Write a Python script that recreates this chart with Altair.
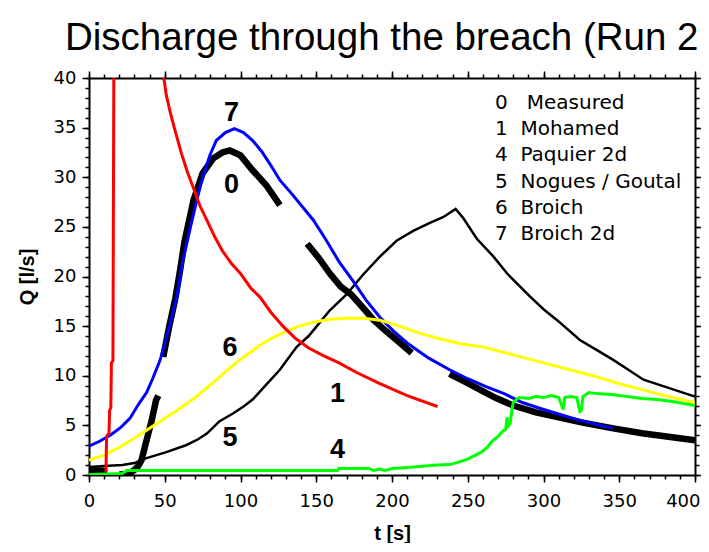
import altair as alt
import pandas as pd

# ---------------- data ----------------
legend_labels = ["0\u00a0\u00a0\u00a0Measured", "1\u00a0\u00a0Mohamed", "4\u00a0\u00a0Paquier 2d",
                 "5\u00a0\u00a0Nogues / Goutal", "6\u00a0\u00a0Broich", "7\u00a0\u00a0Broich 2d"]
series_colors = ["#000000", "#ff0000", "#00ff00", "#000000", "#ffff00", "#0000ff"]

# 0 Measured (broken trace, seg = piece id)
meas_t = [0, 6, 12,
          20, 26, 30, 32.5, 34.7, 38, 41.4, 44.2, 45.7,
          49, 53, 57, 60, 63, 69, 75, 82, 88, 93, 100, 108, 117, 126,
          144, 152, 159, 166, 173, 180, 188, 196, 203, 213,
          238, 248, 258, 268, 280, 295, 310, 325, 346, 365, 385, 400]
meas_q = [0.5, 0.45, 0.4,
          0.05, 0.1, 0.5, 0.9, 1.5, 3.5, 5.5, 7.5, 8.0,
          11.9, 15.0, 17.8, 20.5, 23.5, 27.7, 30.4, 31.9, 32.5, 32.7, 32.2, 30.7, 29.2, 27.2,
          23.3, 21.8, 20.3, 19.0, 18.2, 17.0, 15.6, 14.5, 13.6, 12.3,
          10.2, 9.4, 8.6, 7.8, 7.0, 6.3, 5.8, 5.3, 4.7, 4.2, 3.8, 3.5]
meas_seg = [0] * 3 + [1] * 9 + [2] * 14 + [3] * 10 + [4] * 12

# 1 Mohamed (leaves the top of the plot and comes back)
moh_t = [11.2, 11.6, 13.2, 13.6, 14.4, 14.8, 15.8, 16.4,
         48.5, 51, 54, 57, 61, 65, 69, 73, 78, 83, 88, 94, 100, 107, 113, 120, 128, 136,
         145, 155, 165, 177, 192, 210, 230]
moh_q = [0.3, 3.9, 4.2, 6.5, 6.8, 11.3, 11.5, 41,
         41, 38.3, 36.3, 34.6, 32.4, 30.5, 28.9, 27.2, 25.6, 24.0, 22.6, 21.3, 20.3, 18.8, 17.9, 16.4, 15.0, 13.8,
         12.8, 12.0, 11.3, 10.3, 9.2, 8.0, 6.9]
moh_seg = [0] * 8 + [1] * 25

# 4 Paquier 2d
paq_t = [0, 12, 22, 25, 60, 100, 140, 164, 165, 185, 188, 192, 195, 198, 200, 210, 222, 230, 238, 244,
         250, 255, 259, 263, 266, 270, 273, 275, 276, 277, 278, 279, 280, 282, 284, 290, 295, 300, 305,
         310, 312, 313, 314, 318, 322, 324, 325, 326, 330, 335, 345, 355, 365, 375, 385, 400]
paq_q = [0.05, 0.1, 0.15, 0.45, 0.45, 0.45, 0.45, 0.45, 0.65, 0.65, 0.45, 0.6, 0.45, 0.55, 0.65, 0.75, 0.9,
         1.0, 1.05, 1.3, 1.6, 2.0, 2.3, 2.8, 3.4, 3.9, 4.4, 4.6, 5.8, 5.0, 5.2, 6.4, 7.3, 7.6, 7.8, 7.7,
         7.9, 7.8, 8.0, 7.8, 7.0, 6.6, 7.8, 7.9, 7.8, 6.4, 6.5, 7.9, 8.3, 8.2, 8.1, 7.9, 7.7, 7.6, 7.4, 7.0]

# 5 Nogues / Goutal
nog_t = [0, 10, 22, 30, 38, 51, 64, 72, 78, 86, 95, 102, 108, 117, 126, 137, 145, 152, 159, 170, 181,
         192, 203, 214, 225, 234, 242, 247, 256, 267, 276, 291, 300, 309, 324, 335, 346, 356, 366, 380,
         396, 400]
nog_q = [0.8, 0.9, 1.0, 1.2, 1.7, 2.3, 3.0, 3.6, 4.2, 5.4, 6.2, 6.9, 7.6, 9.1, 10.6, 12.9, 14.0, 15.3,
         16.6, 18.2, 20.2, 22.0, 23.6, 24.6, 25.4, 26.0, 26.8, 25.9, 23.8, 22.0, 20.3, 18.0, 16.7, 15.6,
         13.6, 12.6, 11.6, 10.6, 9.6, 8.9, 8.1, 7.9]

# 6 Broich
bro_t = [0, 10, 20, 30, 40, 50, 60, 70, 82, 93, 104, 115, 126, 137, 148, 159, 170, 181, 192, 205, 218,
         232, 246, 260, 275, 290, 305, 320, 335, 350, 365, 380, 400]
bro_q = [1.5, 2.0, 2.8, 3.7, 4.7, 5.7, 6.7, 7.8, 9.3, 10.8, 12.1, 13.3, 14.2, 14.9, 15.4, 15.7, 15.8,
         15.8, 15.6, 15.0, 14.3, 13.7, 13.2, 12.9, 12.3, 11.7, 11.1, 10.5, 9.9, 9.2, 8.6, 8.0, 7.3]

# 7 Broich 2d
b2d_t = [0, 7, 14, 21, 27, 33, 38, 42, 47, 53, 58, 62, 67, 71, 75, 80, 84, 90, 96, 102, 108, 114, 120,
         126, 134, 141, 148, 156, 165, 174, 183, 192, 201, 210, 224, 238, 250, 262, 274, 286, 298, 311,
         324, 335, 346]
b2d_q = [2.9, 3.4, 4.0, 4.8, 5.7, 7.2, 8.3, 9.7, 11.6, 14.9, 18.0, 21.6, 25.0, 27.6, 30.0, 32.3, 33.7,
         34.5, 34.9, 34.5, 33.7, 32.6, 31.2, 29.7, 28.3, 27.0, 25.7, 23.8, 21.5, 19.6, 17.6, 15.9, 14.5,
         13.3, 11.8, 10.6, 9.7, 8.9, 8.2, 7.3, 6.7, 6.1, 5.5, 5.1, 4.7]

# curve number labels inside the plot
lab_text = ["7", "0", "6", "1", "5", "4"]
lab_t = [94, 94, 93, 164, 93, 164]
lab_q = [36.5, 29.2, 12.8, 8.2, 3.7, 2.5]

x_major = list(range(0, 401, 50))
x_minor = list(range(0, 401, 10))
y_major = list(range(0, 41, 5))
y_minor = list(range(0, 41, 1))


# ---------------- tables ----------------
def frame(ts, qs, label, segs=None):
    return pd.DataFrame({"t": ts, "q": qs, "series": label,
                         "seg": segs if segs is not None else [0] * len(ts)})


df_meas = frame(meas_t, meas_q, legend_labels[0], meas_seg)
df_moh = frame(moh_t, moh_q, legend_labels[1], moh_seg)
df_paq = frame(paq_t, paq_q, legend_labels[2])
df_nog = frame(nog_t, nog_q, legend_labels[3])
df_bro = frame(bro_t, bro_q, legend_labels[4])
df_b2d = frame(b2d_t, b2d_q, legend_labels[5])
df_lab = pd.DataFrame({"t": lab_t, "q": lab_q, "txt": lab_text})

xs = alt.Scale(domain=[0, 400], nice=False, zero=False)
ys = alt.Scale(domain=[0, 40], nice=False, zero=False)
cs = alt.Scale(domain=legend_labels, range=series_colors)

leg = alt.Legend(title=None, orient="none", legendX=386, legendY=15, symbolSize=0, symbolOpacity=0,
                 symbolStrokeWidth=0, labelFont="DejaVu Sans", labelFontSize=20, labelColor="black",
                 labelOffset=0, rowPadding=6.2, padding=0, labelLimit=400)

ax_b = alt.Axis(orient="bottom", values=x_major, tickSize=7, title="t [s]", labelPadding=10,
                titlePadding=13, labelFlush=False,
                labelAlign={"condition": {"test": "datum.value == 400", "value": "right"}, "value": "center"},
                labelOffset={"condition": {"test": "datum.value == 400", "value": 5}, "value": 0})
ax_b_min = alt.Axis(orient="bottom", values=x_minor, tickSize=4, labels=False, domain=False, title=None)
ax_t = alt.Axis(orient="top", values=x_major, tickSize=7, labels=False, title=None)
ax_t_min = alt.Axis(orient="top", values=x_minor, tickSize=4, labels=False, domain=False, title=None)
ay_l = alt.Axis(orient="left", values=y_major, tickSize=7, title="Q [l/s]", labelPadding=6,
                titlePadding=16, labelFlush=False)
ay_l_min = alt.Axis(orient="left", values=y_minor, tickSize=4, labels=False, domain=False, title=None)
ay_r = alt.Axis(orient="right", values=y_major, tickSize=7, labels=False, title=None)
ay_r_min = alt.Axis(orient="right", values=y_minor, tickSize=4, labels=False, domain=False, title=None)


def line(df, width, xaxis=None, yaxis=None):
    xe = alt.X("t:Q", scale=xs, axis=xaxis) if xaxis is not None else alt.X("t:Q", scale=xs, axis=None)
    ye = alt.Y("q:Q", scale=ys, axis=yaxis) if yaxis is not None else alt.Y("q:Q", scale=ys, axis=None)
    return alt.Chart(df).mark_line(clip=True, strokeWidth=width).encode(
        x=xe, y=ye,
        color=alt.Color("series:N", scale=cs, legend=leg),
        detail="seg:N",
    )


l_nog = line(df_nog, 2.5, ax_b, ay_l)
l_meas = line(df_meas, 6.5, ax_b_min, ay_l_min)
l_b2d = line(df_b2d, 3, ax_t, ay_r)
l_bro = line(df_bro, 3, ax_t_min, ay_r_min)
l_moh = line(df_moh, 3)
l_paq = line(df_paq, 3)

l_lab = alt.Chart(df_lab).mark_text(font="Liberation Sans", fontSize=27, fontWeight="bold",
                                    color="black", align="center", baseline="middle").encode(
    x=alt.X("t:Q", scale=xs, axis=None),
    y=alt.Y("q:Q", scale=ys, axis=None),
    text="txt:N",
)

chart = alt.layer(l_nog, l_meas, l_b2d, l_bro, l_moh, l_paq, l_lab).resolve_axis(
    x="independent", y="independent"
).properties(
    width=606,
    height=397,
    title=alt.TitleParams("Discharge through the breach (Run 2", font="Liberation Sans", fontSize=38.5,
                          fontWeight="normal", color="black", anchor="start", frame="group", dx=-24,
                          offset=11),
    autosize=alt.AutoSizeParams(type="none"),
    padding={"left": 81, "top": 70, "right": 6, "bottom": 68},
    background="white",
).configure_view(stroke=None).configure_axis(
    domainColor="black", domainWidth=2, tickColor="black", tickWidth=1.5, labelColor="black",
    labelFont="DejaVu Sans", labelFontSize=18, titleFont="Liberation Sans", titleFontSize=20,
    titleFontWeight="bold", titleColor="black", grid=False,
)

chart.save("out.html", embed_options={"renderer": "svg", "actions": False})
